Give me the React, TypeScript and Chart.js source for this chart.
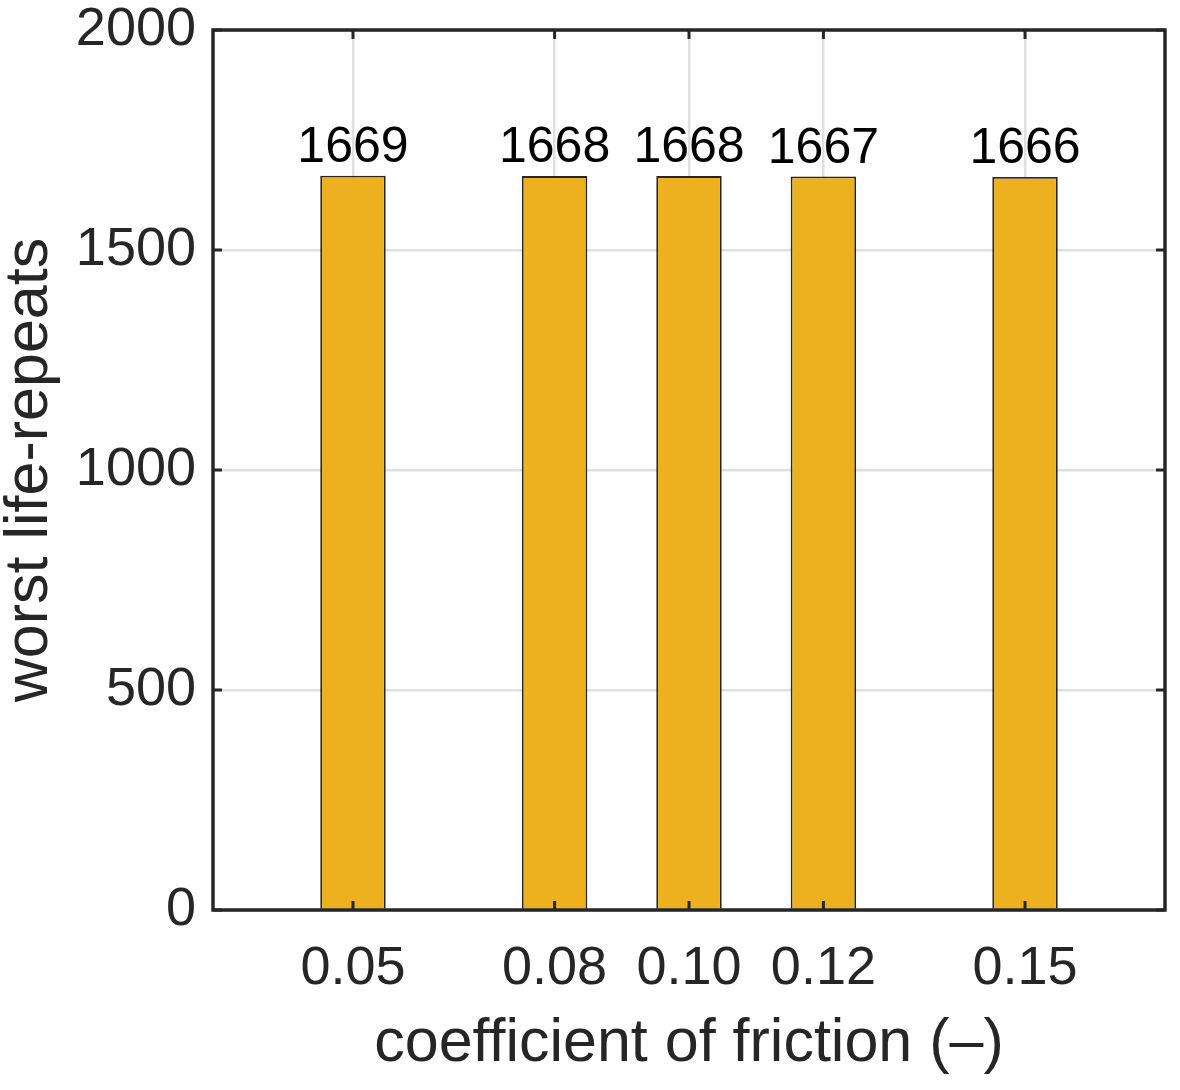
import React, { useEffect, useRef } from 'react';
import { Chart, registerables } from 'chart.js';

Chart.register(...registerables);

const frictionCoefficients = [0.05, 0.08, 0.1, 0.12, 0.15];
const worstLifeRepeats = [1669, 1668, 1668, 1667, 1666];
const xTickLabels = ['0.05', '0.08', '0.10', '0.12', '0.15'];
const yTickValues = [0, 500, 1000, 1500, 2000];

const FONT = '"Liberation Sans", Arial, Helvetica, sans-serif';
const AXIS_COLOR = '#262626';

const matlabBoxPlugin = {
  id: 'matlabBox',
  afterDatasetsDraw(chart: any) {
    const { ctx, chartArea: a, scales } = chart;
    const xs = scales.x;
    const ys = scales.y;
    ctx.save();

    // value labels above bars
    const meta = chart.getDatasetMeta(0);
    ctx.font = `50px ${FONT}`;
    ctx.fillStyle = '#000000';
    ctx.textAlign = 'center';
    ctx.textBaseline = 'alphabetic';
    meta.data.forEach((bar: any, i: number) => {
      ctx.fillText(String(worstLifeRepeats[i]), bar.x, bar.y - 14);
    });

    // inward tick marks on all sides
    const tl = 9;
    ctx.strokeStyle = AXIS_COLOR;
    ctx.lineWidth = 3;
    const line = (x1: number, y1: number, x2: number, y2: number) => {
      ctx.beginPath();
      ctx.moveTo(x1, y1);
      ctx.lineTo(x2, y2);
      ctx.stroke();
    };
    xs.ticks.forEach((t: any) => {
      const px = xs.getPixelForValue(t.value);
      line(px, a.bottom, px, a.bottom - tl);
      line(px, a.top, px, a.top + tl);
    });
    ys.ticks.forEach((t: any) => {
      const py = ys.getPixelForValue(t.value);
      line(a.left, py, a.left + tl, py);
      line(a.right, py, a.right - tl, py);
    });

    // box
    ctx.lineWidth = 3.5;
    ctx.strokeRect(a.left, a.top, a.right - a.left, a.bottom - a.top);
    ctx.restore();
  },
};

export default function App() {
  const canvasRef = useRef<HTMLCanvasElement | null>(null);

  useEffect(() => {
    if (!canvasRef.current) return;
    Chart.defaults.font.family = FONT;
    const chart = new Chart(canvasRef.current, {
      type: 'bar',
      data: {
        datasets: [
          {
            label: 'worst life-repeats',
            data: frictionCoefficients.map((x, i) => ({ x, y: worstLifeRepeats[i] })),
            backgroundColor: '#EDB120',
            borderColor: 'rgba(25,25,25,0.95)',
            borderWidth: 1.8,
            barPercentage: 0.487,
            categoryPercentage: 1,
          },
        ],
      },
      options: {
        animation: false,
        responsive: false,
        maintainAspectRatio: false,
        layout: { padding: { top: 30, right: 15, left: 0, bottom: 0 } },
        plugins: {
          legend: { display: false },
          tooltip: { enabled: false },
          title: { display: false },
        },
        scales: {
          x: {
            type: 'linear',
            offset: false,
            min: 0.02917,
            max: 0.17083,
            afterBuildTicks: (scale: any) => {
              scale.ticks = frictionCoefficients.map((v) => ({ value: v }));
            },
            afterFit: (scale: any) => {
              scale.height = 180;
              scale.paddingLeft = 0;
              scale.paddingRight = 0;
            },
            grid: { color: '#e0e0e0', lineWidth: 2.5, drawTicks: false, offset: false },
            border: { display: false },
            ticks: {
              autoSkip: false,
              maxRotation: 0,
              minRotation: 0,
              padding: 32,
              color: AXIS_COLOR,
              font: { size: 54, lineHeight: 1 },
              callback: (_v: any, index: number) => xTickLabels[index],
            },
            title: {
              display: true,
              text: 'coefficient of friction (–)',
              color: AXIS_COLOR,
              font: { size: 61, lineHeight: 1 },
              padding: { top: 0, bottom: 15 },
            },
          },
          y: {
            type: 'linear',
            min: 0,
            max: 2000,
            afterBuildTicks: (scale: any) => {
              scale.ticks = yTickValues.map((v) => ({ value: v }));
            },
            afterFit: (scale: any) => {
              scale.width = 213;
              scale.paddingTop = 0;
              scale.paddingBottom = 0;
            },
            grid: { color: '#e0e0e0', lineWidth: 2.5, drawTicks: false },
            border: { display: false },
            ticks: {
              padding: 17,
              color: AXIS_COLOR,
              font: { size: 54, lineHeight: 1 },
              callback: (v: any) => String(v),
            },
            title: {
              display: true,
              text: 'worst life-repeats',
              color: AXIS_COLOR,
              font: { size: 61, lineHeight: 1 },
              padding: { top: 0, bottom: 0 },
            },
          },
        },
      },
      plugins: [matlabBoxPlugin],
    } as any);
    return () => chart.destroy();
  }, []);

  return (
    <div style={{ position: 'absolute', left: 0, top: 0, width: 1180, height: 1090, background: '#ffffff' }}>
      <canvas ref={canvasRef} width={1180} height={1090} style={{ display: 'block', width: 1180, height: 1090 }} />
    </div>
  );
}
